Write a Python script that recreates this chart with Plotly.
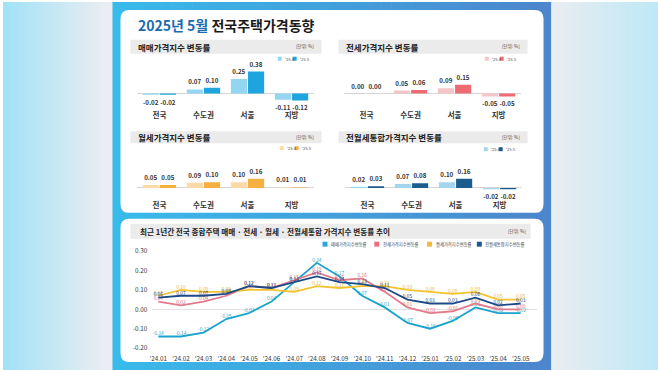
import plotly.graph_objects as go

W, H = 658, 370

# ---------------- data ----------------
regions = ["전국", "수도권", "서울", "지방"]
period_labels = ["'25.4", "'25.5"]
sale_apr = [-0.02, 0.07, 0.25, -0.11]
sale_may = [-0.02, 0.10, 0.38, -0.12]
jeonse_apr = [0.00, 0.05, 0.09, -0.05]
jeonse_may = [0.00, 0.06, 0.15, -0.05]
rent_apr = [0.05, 0.09, 0.10, 0.01]
rent_may = [0.05, 0.10, 0.16, 0.01]
combo_apr = [0.02, 0.07, 0.10, -0.02]
combo_may = [0.03, 0.08, 0.16, -0.02]

months = ["'24.01", "'24.02", "'24.03", "'24.04", "'24.05", "'24.06", "'24.07", "'24.08",
          "'24.09", "'24.10", "'24.11", "'24.12", "'25.01", "'25.02", "'25.03", "'25.04", "'25.05"]
sale_trend = [-0.14, -0.14, -0.12, -0.05, -0.02, 0.04, 0.14, 0.24, 0.17, 0.07, 0.01, -0.07, -0.10, -0.06, 0.01, -0.02, -0.02]
jeonse_trend = [0.04, 0.02, 0.04, 0.07, 0.12, 0.11, 0.15, 0.19, 0.15, 0.16, 0.09, 0.01, -0.02, -0.01, 0.03, 0.00, 0.00]
rent_trend = [0.07, 0.10, 0.09, 0.09, 0.10, 0.10, 0.09, 0.12, 0.11, 0.12, 0.12, 0.10, 0.09, 0.08, 0.09, 0.05, 0.05]
combo_trend = [0.06, 0.07, 0.07, 0.08, 0.12, 0.11, 0.14, 0.17, 0.14, 0.13, 0.11, 0.05, 0.03, 0.03, 0.06, 0.02, 0.03]
trend_names = ["매매가격지수변동률", "전세가격지수변동률", "월세가격지수변동률", "전월세통합지수변동률"]
y_ticks = [-0.2, -0.1, 0.0, 0.1, 0.2, 0.3]

panel_titles = ["매매가격지수 변동률", "전세가격지수 변동률", "월세가격지수 변동률", "전월세통합가격지수 변동률"]
main_title = "<span style='color:#1b6bb0'>2025년 5월</span> 전국주택가격동향"
trend_title = "최근 1년간 전국 종합주택 매매 · 전세 · 월세 · 전월세통합 가격지수 변동률 추이"
unit_text = "[단위: %]"

FONT = "Noto Sans CJK KR"


def fx(p):
    return p / W


def fy(p):
    return 1 - p / H


shapes = []
annotations = []


def rect(x0, y0, x1, y1, color, layer="below"):
    shapes.append(dict(type="rect", xref="paper", yref="paper", x0=fx(x0), x1=fx(x1),
                       y0=fy(y1), y1=fy(y0), fillcolor=color, line=dict(width=0), layer=layer))


def rrect(x0, y0, x1, y1, r, color):
    pts = [("M", x0 + r, y0), ("L", x1 - r, y0), ("Q", x1, y0, x1, y0 + r), ("L", x1, y1 - r),
           ("Q", x1, y1, x1 - r, y1), ("L", x0 + r, y1), ("Q", x0, y1, x0, y1 - r),
           ("L", x0, y0 + r), ("Q", x0, y0, x0 + r, y0)]
    s = ""
    for p in pts:
        cmd = p[0]
        coords = p[1:]
        parts = []
        for i in range(0, len(coords), 2):
            parts.append(f"{fx(coords[i]):.5f},{fy(coords[i+1]):.5f}")
        s += cmd + " ".join(parts) + " "
    s += "Z"
    shapes.append(dict(type="path", xref="paper", yref="paper", path=s, fillcolor=color,
                       line=dict(width=0), layer="below"))


def mix(c0, c1, t):
    return "rgb(%d,%d,%d)" % tuple(round(a + (b - a) * t) for a, b in zip(c0, c1))


def gradient(x0, x1, c0, c1, n):
    step = (x1 - x0) / n
    for i in range(n):
        rect(x0 + i * step, 0, x0 + (i + 1) * step + 0.6, H, mix(c0, c1, i / (n - 1)))


# background
gradient(0, 104, (162, 226, 246), (234, 237, 241), 26)
rect(104, 0, 111, H, "rgb(234,237,241)")
gradient(549, 658, (234, 237, 241), (190, 232, 246), 26)
gradient(110, 550, (56, 186, 234), (76, 134, 205), 44)
rrect(118, 8, 543, 212, 9, "white")
rrect(118, 218, 543, 362, 9, "white")

# header bars
headers = [(128, 38, 320, 52), (337, 38, 527, 52), (128, 130, 320, 142), (337, 130, 527, 142)]
for (x0, y0, x1, y1), t in zip(headers, panel_titles):
    rect(x0, y0, x1, y1, "#ebebeb")
    annotations.append(dict(xref="paper", yref="paper", x=fx(x0 + 6), y=fy((y0 + y1) / 2), text=f"<b>{t}</b>",
                            showarrow=False, xanchor="left", yanchor="middle",
                            font=dict(family=FONT, size=8.5, color="#222")))
    annotations.append(dict(xref="paper", yref="paper", x=fx(x1 - 6), y=fy((y0 + y1) / 2), text=unit_text,
                            showarrow=False, xanchor="right", yanchor="middle",
                            font=dict(family=FONT, size=4.5, color="#444")))
rect(128, 223, 530, 238, "#ebebeb")
annotations.append(dict(xref="paper", yref="paper", x=fx(136), y=fy(230.5), text=f"<b>{trend_title}</b>",
                        showarrow=False, xanchor="left", yanchor="middle",
                        font=dict(family=FONT, size=7.6, color="#222")))
annotations.append(dict(xref="paper", yref="paper", x=fx(527), y=fy(230.5), text=unit_text,
                        showarrow=False, xanchor="right", yanchor="middle",
                        font=dict(family=FONT, size=4.5, color="#444")))
annotations.append(dict(xref="paper", yref="paper", x=fx(134), y=fy(23), text=f"<b>{main_title}</b>",
                        showarrow=False, xanchor="left", yanchor="middle",
                        font=dict(family=FONT, size=14, color="#1a1a1a")))

# ---------------- bar panels ----------------
panels = [
    (sale_apr, sale_may, "#93d6f1", "#1ea5df", (135, 312), 92),
    (jeonse_apr, jeonse_may, "#f6c5ca", "#ef6b74", (343, 520), 92),
    (rent_apr, rent_may, "#fbdaa8", "#f5b041", (135, 312), 187),
    (combo_apr, combo_may, "#a4d5ee", "#1c5d8f", (344, 521), 187),
]
legend_pos = [(276, 57), (484, 57), (278, 147), (483, 148)]
SCALE = 58.0

fig = go.Figure()
layout_axes = {}
for i, (apr, may, cl, cd, (xa0, xa1), zero) in enumerate(panels):
    n = i + 1
    top, bottom = zero - 32, zero + (16 if zero < 150 else 12)
    for vals, col, name in [(apr, cl, period_labels[0]), (may, cd, period_labels[1])]:
        fig.add_trace(go.Bar(x=regions, y=vals, name=name, marker=dict(color=col, line=dict(width=0)),
                             text=[f"{v:.2f}" for v in vals], textposition="outside", textangle=0,
                             constraintext="none", cliponaxis=False,
                             textfont=dict(family=FONT, size=6.2, color="#333", weight="bold"),
                             xaxis=f"x{n}", yaxis=f"y{n}", showlegend=False))
    layout_axes[f"xaxis{n}"] = dict(domain=[fx(xa0), fx(xa1)], anchor=f"y{n}", type="category",
                                    range=[-0.5, 3.5], showgrid=False, showline=False, ticks="",
                                    tickfont=dict(family=FONT, size=7.5, color="#333", weight="bold"),
                                    fixedrange=True)
    layout_axes[f"yaxis{n}"] = dict(domain=[fy(bottom), fy(top)], anchor=f"x{n}",
                                    range=[-(bottom - zero) / SCALE, (zero - top) / SCALE],
                                    showgrid=False, showticklabels=False, ticks="", zeroline=True,
                                    zerolinecolor="#d6d6d6", zerolinewidth=1, fixedrange=True)
    lx, ly = legend_pos[i]
    for k, (col, lab) in enumerate([(cl, period_labels[0]), (cd, period_labels[1])]):
        sx = lx + k * 15
        rect(sx, ly - 2, sx + 4, ly + 2, col, layer="above")
        annotations.append(dict(xref="paper", yref="paper", x=fx(sx + 5), y=fy(ly), text=lab,
                                showarrow=False, xanchor="left", yanchor="middle",
                                font=dict(family=FONT, size=4, color="#444")))

# ---------------- trend chart ----------------
series = [
    (sale_trend, "#1aa3cc", "#1f9fc8"),
    (jeonse_trend, "#e07a8c", "#d9667c"),
    (rent_trend, "#f2c32e", "#e8b52a"),
    (combo_trend, "#1d4a86", "#1d3f72"),
]
for (vals, lc, tc), name in zip(series, trend_names):
    fig.add_trace(go.Scatter(x=months, y=vals, name=name, mode="lines+text",
                             line=dict(color=lc, width=1.8),
                             text=[f"{v:.2f}" for v in vals], textposition="top center",
                             textfont=dict(family=FONT, size=4.8, color=tc),
                             cliponaxis=False, xaxis="x5", yaxis="y5", showlegend=False))

ZERO5, SC5 = 309, 195.0
top5, bot5 = 248, 354
layout_axes["xaxis5"] = dict(domain=[fx(150), fx(536)], anchor="y5", type="category",
                             range=[-0.264, 16.7], showgrid=False, showline=False, ticks="",
                             tickfont=dict(family=FONT, size=6.3, color="#333"), fixedrange=True)
layout_axes["yaxis5"] = dict(domain=[fy(bot5), fy(top5)], anchor="x5",
                             range=[-(bot5 - ZERO5) / SC5, (ZERO5 - top5) / SC5],
                             tickvals=y_ticks, ticktext=[f"{v:.2f}" for v in y_ticks],
                             showgrid=False, ticks="", zeroline=True, zerolinecolor="#e2e2e2",
                             zerolinewidth=1, tickfont=dict(family=FONT, size=6.3, color="#333"),
                             ticklabelstandoff=4, fixedrange=True)

# trend legend (swatches + labels)
leg_x = [321, 373, 426, 476]
leg_cols = ["#29a7df", "#ec6f7f", "#f5b842", "#1e5a92"]
for x0, col, name in zip(leg_x, leg_cols, trend_names):
    rect(x0, 241, x0 + 5, 246, col, layer="above")
    annotations.append(dict(xref="paper", yref="paper", x=fx(x0 + 6.5), y=fy(243.5), text=name,
                            showarrow=False, xanchor="left", yanchor="middle",
                            font=dict(family=FONT, size=4.3, color="#444")))

fig.update_layout(width=W, height=H, margin=dict(l=0, r=0, t=0, b=0),
                  paper_bgcolor="white", plot_bgcolor="rgba(0,0,0,0)",
                  barmode="group", bargap=0.22, bargroupgap=0.06,
                  shapes=shapes, annotations=annotations, showlegend=False,
                  font=dict(family=FONT), **layout_axes)

fig.write_html("out.html", config={"displayModeBar": False, "staticPlot": True},
               post_script="document.body.style.margin='0';document.body.style.overflow='hidden';")
